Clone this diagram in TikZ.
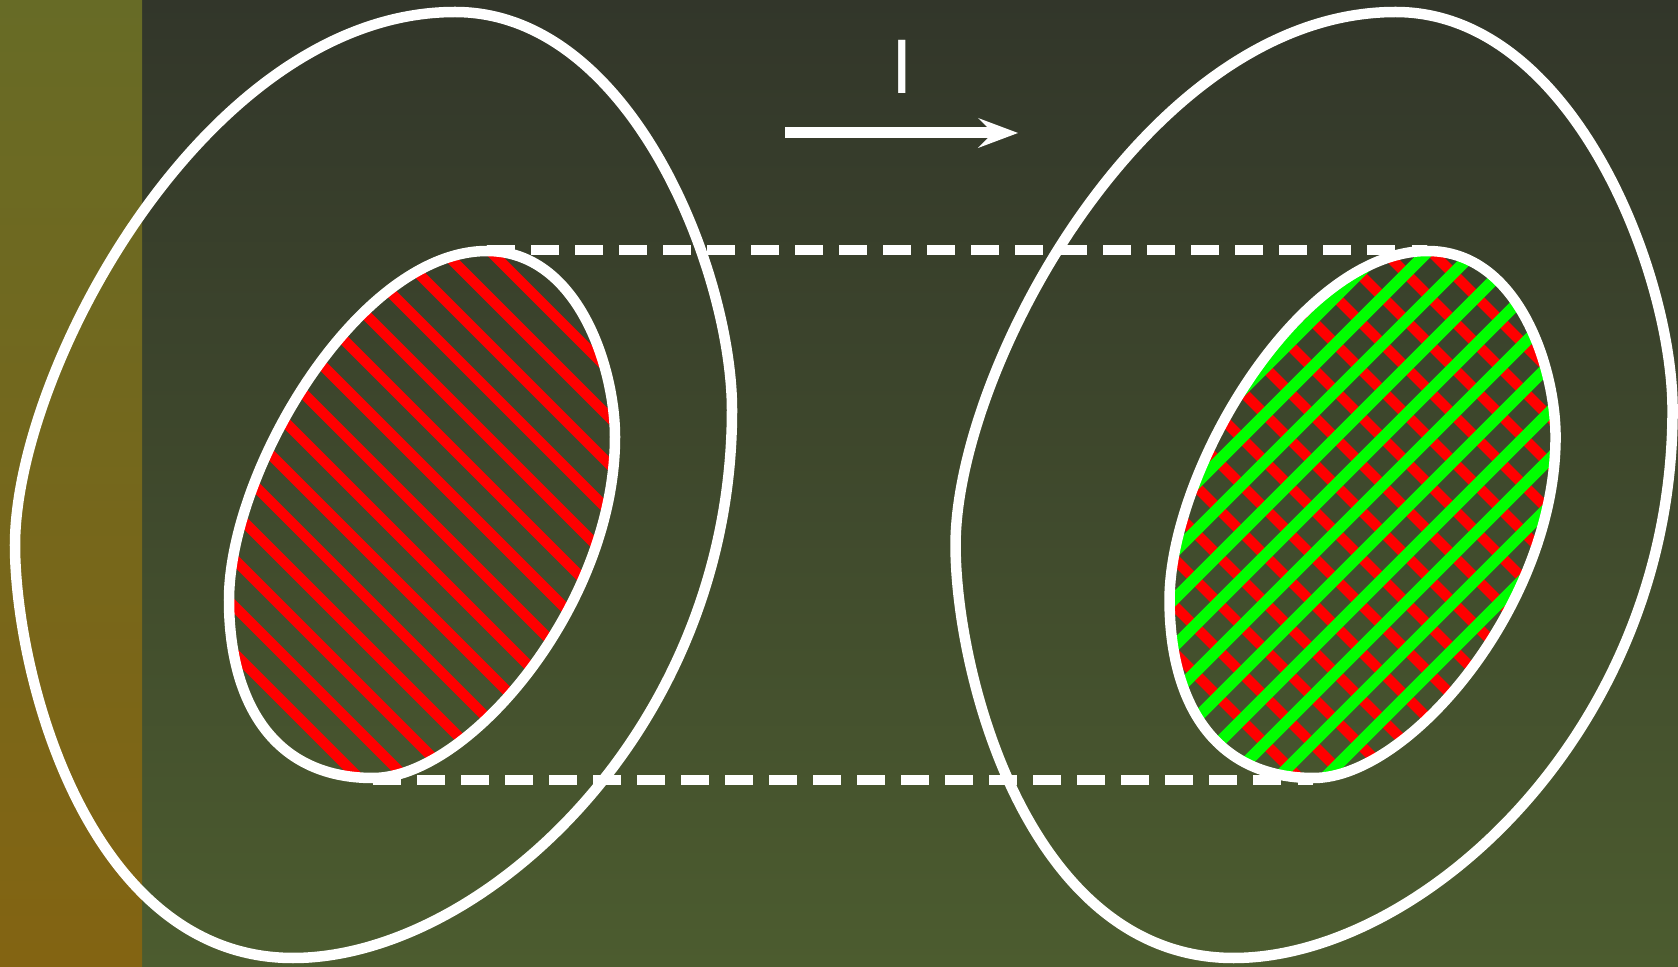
\documentclass[tikz,border=0pt]{standalone}
\usepackage{fontspec}
\setmainfont{Liberation Sans}
\usetikzlibrary{arrows.meta}
\definecolor{bgtop}{RGB}{50,54,42}
\definecolor{bgbot}{RGB}{76,92,47}
\definecolor{striptop}{RGB}{103,107,38}
\definecolor{stripbot}{RGB}{131,100,18}
\definecolor{hatchred}{RGB}{255,0,0}
\definecolor{hatchgreen}{RGB}{0,255,0}
\begin{document}
\begin{tikzpicture}[x=0.01cm,y=-0.01cm,
  outline/.style={white,line width=0.105cm},
  guide/.style={white,line width=0.105cm,dash pattern=on 0.275cm off 0.165cm},
  redhatch/.style={hatchred,line width=0.105cm},
  greenhatch/.style={hatchgreen,line width=0.115cm},
  outerpath/.style={insert path={(455,12) .. controls (632,12) and (732,274) .. (732,410)
    .. controls (732,730) and (481,958) .. (293,958) .. controls (88,958) and (15,674) .. (15,545)
    .. controls (15,370) and (207,12) .. (455,12) -- cycle}},
  blobpath/.style={insert path={(487,251) .. controls (578,251) and (615,368) .. (615,437)
    .. controls (615,604) and (469,778) .. (373,778) .. controls (269,778) and (229,696) .. (229,600)
    .. controls (229,471) and (359,251) .. (487,251) -- cycle}}]
  \useasboundingbox (0,0) rectangle (1678,967);
  \shade[top color=bgtop,bottom color=bgbot] (0,0) rectangle (1678,967);
  \shade[top color=striptop,bottom color=stripbot] (0,0) rectangle (142,967);
  % hatched sets
  \begin{scope}
    \clip[blobpath];
    \foreach \k in {-12,...,8}
      \draw[redhatch] ({4+47*\k+240},240) -- ({4+47*\k+790},790);
  \end{scope}
  \begin{scope}[xshift=9.4cm]
    \clip[blobpath];
    \foreach \k in {-12,...,8}
      \draw[redhatch] ({4+47*\k+240},240) -- ({4+47*\k+790},790);
    \foreach \k in {9,...,29}
      \draw[greenhatch] ({34+47*\k-240},240) -- ({34+47*\k-790},790);
  \end{scope}
  % outlines
  \draw[outline,outerpath];
  \draw[outline,blobpath];
  \begin{scope}[xshift=9.4cm]
    \draw[outline,outerpath];
    \draw[outline,blobpath];
  \end{scope}
  \coordinate (ltop) at (487,250);
  \coordinate (rtop) at (1427,250);
  \coordinate (lbot) at (373,780);
  \coordinate (rbot) at (1313,780);
  \draw[guide] (ltop) -- (rtop);
  \draw[guide] (lbot) -- (rbot);
  % the map
  \coordinate (maptail) at (785,133);
  \coordinate (maptip) at (1018,133);
  \draw[white,line width=0.11cm,-{Stealth[length=0.4cm,width=0.3cm,inset=0.15cm,line width=0pt]}] (maptail) -- (maptip);
  \node[text=white,inner sep=0,font=\fontsize{22}{26}\selectfont] (mapname) at (902.5,67) {I};
\end{tikzpicture}
\end{document}
